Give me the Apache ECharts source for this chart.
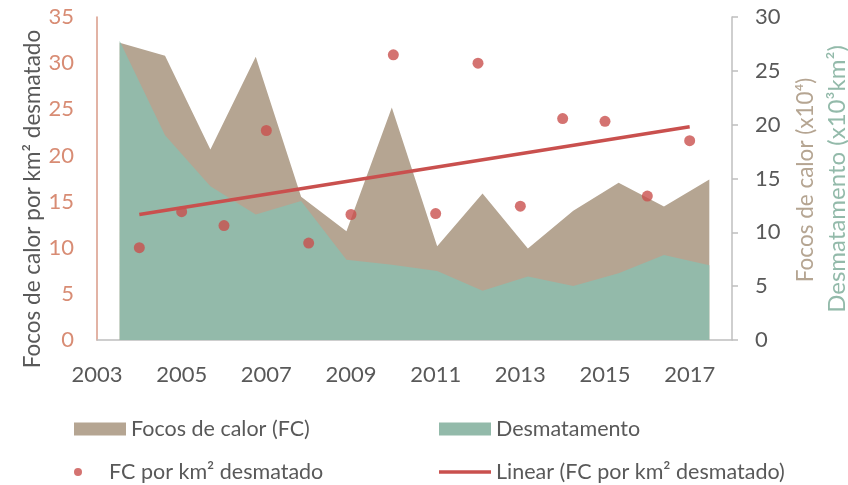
<!DOCTYPE html>
<html>
<head>
    <meta charset="utf-8">
    <title>Focos de calor e desmatamento</title>
    <script src="https://cdn.jsdelivr.net/npm/echarts@6/dist/echarts.min.js"></script>
    <style>
        html, body { margin: 0; padding: 0; background: #fff; }
        #main { width: 848px; height: 485px; }
    </style>
</head>
<body>
<div id="main"></div>
<script>
    // ---- dados
    var anosArea = ['2004', '2005', '2006', '2007', '2008', '2009', '2010', '2011', '2012', '2013', '2014', '2015', '2016', '2017'];
    // focos de calor (x10^4)
    var focos = [27.6, 26.4, 17.7, 26.3, 13.3, 10.1, 21.6, 8.7, 13.6, 8.5, 12.0, 14.6, 12.4, 14.9];
    // desmatamento (x10^3 km2)
    var desmatamento = [27.77, 19.01, 14.29, 11.65, 12.91, 7.46, 7.00, 6.42, 4.57, 5.89, 5.01, 6.21, 7.89, 6.95];
    // FC por km2 desmatado
    var anosFc = [2004, 2005, 2006, 2007, 2008, 2009, 2010, 2011, 2012, 2013, 2014, 2015, 2016, 2017];
    var fcPorKm = [10.0, 13.9, 12.4, 22.7, 10.5, 13.6, 30.9, 13.7, 30.0, 14.5, 24.0, 23.7, 15.6, 21.6];
    // linha de tendencia (extremos)
    var tendencia = [[2004, 13.6], [2017, 23.1]];

    var fonte = 'Lato';
    var cinza = '#595959';
    var marrom = '#B5A592';
    var verde = '#93BAAA';
    var vermelho = '#C9504E';
    var salmao = '#D88C74';

    var chart = echarts.init(document.getElementById('main'));

    var pontos = anosFc.map(function (a, i) { return [a, fcPorKm[i]]; });

    var legTexto = { color: cinza, fontSize: 21.5, fontFamily: fonte };

    var option = {
        animation: false,
        textStyle: { fontFamily: fonte },
        grid: { left: 97, right: 116, top: 17, bottom: 145 },
        xAxis: [
            {
                type: 'value',
                min: 2003,
                max: 2018,
                interval: 1,
                axisLine: { lineStyle: { color: '#BFBFBF', width: 1.5 } },
                axisTick: { show: false },
                splitLine: { show: false },
                axisLabel: {
                    color: cinza, fontSize: 22, margin: 24,
                    formatter: function (v) { return (v % 2 === 1 && v < 2018) ? String(v) : ''; }
                }
            },
            {
                type: 'category',
                data: anosArea,
                boundaryGap: true,
                show: false
            }
        ],
        yAxis: [
            {
                type: 'value',
                min: 0, max: 35, interval: 5,
                axisLine: { show: true, lineStyle: { color: '#D99A87', width: 1.5 } },
                axisTick: { show: false },
                splitLine: { show: false },
                axisLabel: { color: salmao, fontSize: 22, margin: 23 }
            },
            {
                type: 'value',
                min: 0, max: 30, interval: 5,
                position: 'right',
                axisLine: { show: true, lineStyle: { color: '#BFBFBF', width: 1.5 } },
                axisTick: { show: true, inside: false, length: 6, lineStyle: { color: '#BFBFBF', width: 1.5 } },
                splitLine: { show: false },
                axisLabel: { color: cinza, fontSize: 22, margin: 23 }
            }
        ],
        legend: [
            {
                left: 74, top: 418, padding: 0, itemWidth: 52, itemHeight: 13, itemGap: 0,
                textStyle: legTexto,
                data: [{ name: 'Focos de calor (FC)', icon: 'rect' }]
            },
            {
                left: 439, top: 418, padding: 0, itemWidth: 52, itemHeight: 13, itemGap: 0,
                textStyle: legTexto,
                data: [{ name: 'Desmatamento', icon: 'rect' }]
            },
            {
                left: 74, top: 461, padding: 0, itemWidth: 52, itemHeight: 8, itemGap: 0,
                textStyle: legTexto,
                data: [{ name: 'FC por km² desmatado', icon: 'circle' }]
            },
            {
                left: 439, top: 461, padding: 0, itemWidth: 52, itemHeight: 3.5, itemGap: 0,
                textStyle: legTexto,
                data: [{ name: 'Linear (FC por km² desmatado)', icon: 'rect' }]
            }
        ],
        graphic: [
            {
                type: 'text', x: 33, y: 199, rotation: Math.PI / 2,
                style: { text: 'Focos de calor por km² desmatado', fill: cinza, font: '22.5px ' + fonte, align: 'center', verticalAlign: 'middle' }
            },
            {
                type: 'text', x: 806, y: 180, rotation: Math.PI / 2,
                style: { text: 'Focos de calor (x10⁴)', fill: marrom, font: '22.5px ' + fonte, align: 'center', verticalAlign: 'middle' }
            },
            {
                type: 'text', x: 837, y: 179, rotation: Math.PI / 2,
                style: { text: 'Desmatamento (x10³km²)', fill: verde, font: '24px ' + fonte, align: 'center', verticalAlign: 'middle' }
            }
        ],
        series: [
            {
                name: 'Focos de calor (FC)',
                type: 'line',
                xAxisIndex: 1, yAxisIndex: 1,
                data: focos,
                showSymbol: false,
                lineStyle: { width: 0 },
                itemStyle: { color: marrom },
                areaStyle: { color: marrom, opacity: 1 },
                z: 1
            },
            {
                name: 'Desmatamento',
                type: 'line',
                xAxisIndex: 1, yAxisIndex: 1,
                data: desmatamento,
                showSymbol: false,
                lineStyle: { width: 0 },
                itemStyle: { color: verde },
                areaStyle: { color: verde, opacity: 1 },
                z: 2
            },
            {
                name: 'FC por km² desmatado',
                type: 'scatter',
                xAxisIndex: 0, yAxisIndex: 0,
                data: pontos,
                symbolSize: 11,
                itemStyle: { color: vermelho },
                z: 3
            },
            {
                name: 'Linear (FC por km² desmatado)',
                type: 'line',
                xAxisIndex: 0, yAxisIndex: 0,
                data: tendencia,
                showSymbol: false,
                lineStyle: { color: vermelho, width: 3.5 },
                itemStyle: { color: vermelho },
                z: 4
            }
        ]
    };

    chart.setOption(option);
</script>
</body>
</html>
